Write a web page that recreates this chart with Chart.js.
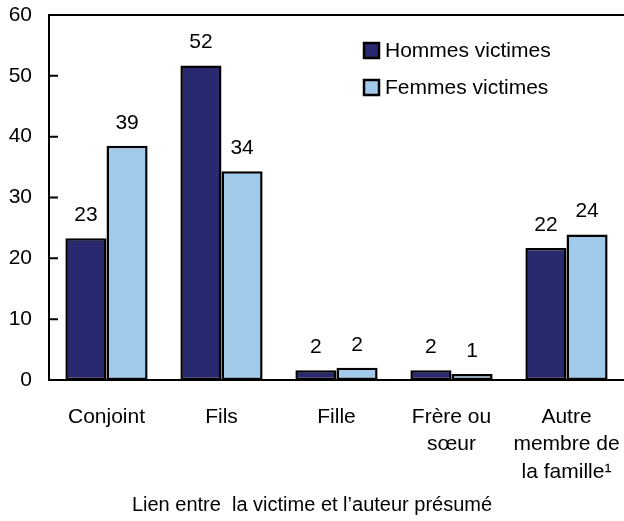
<!DOCTYPE html>
<html>
<head>
<meta charset="utf-8">
<script src="https://cdn.jsdelivr.net/npm/chart.js@4"></script>
<style>
  html, body { margin: 0; padding: 0; background: #fff; overflow: hidden; }
  #wrap { width: 624px; height: 521px; }
  canvas { display: block; }
</style>
</head>
<body>
<div id="wrap"><canvas id="bar-chart"></canvas></div>
<script>
var categories = ['Conjoint', 'Fils', 'Fille', ['Frère ou', 'sœur'], ['Autre', 'membre de', 'la famille¹']];
var hommes = [23.3, 51.7, 1.6, 1.6, 21.7];
var femmes = [38.5, 34.3, 2.0, 1.0, 23.9];
var yTicks = [0, 10, 20, 30, 40, 50, 60];
var axisTitle = 'Lien entre  la victime et l\u2019auteur présumé';

var FONT = '"Liberation Sans", Arial, Helvetica, sans-serif';

// values over the bars, inward y ticks, top rule and legend box
var extras = {
    id: 'extras',
    afterDraw: function(chart) {
        var ctx = chart.ctx;
        var area = chart.chartArea;
        var y = chart.scales.y;
        ctx.save();
        ctx.strokeStyle = '#000';
        ctx.lineWidth = 2;
        ctx.beginPath();
        ctx.moveTo(area.left - 1, area.top);
        ctx.lineTo(chart.width, area.top);
        yTicks.forEach(function(t) {
            var py = y.getPixelForValue(t);
            ctx.moveTo(area.left, py);
            ctx.lineTo(area.left + 9, py);
        });
        ctx.stroke();

        ctx.fillStyle = '#000';
        ctx.font = '21px ' + FONT;
        ctx.textAlign = 'center';
        ctx.textBaseline = 'middle';
        chart.data.datasets.forEach(function(ds, i) {
            chart.getDatasetMeta(i).data.forEach(function(bar, j) {
                ctx.fillText(String(Math.round(ds.data[j])), bar.x, bar.y - 23);
            });
        });

        ctx.textAlign = 'left';
        ctx.font = '21px ' + FONT;
        chart.data.datasets.forEach(function(ds, i) {
            var top = 43 + i * 37;
            ctx.fillStyle = ds.backgroundColor;
            ctx.fillRect(364, top, 15, 15);
            ctx.lineWidth = 2.5;
            ctx.strokeRect(364, top, 15, 15);
            ctx.fillStyle = '#000';
            ctx.fillText(ds.label, 385, top + 8);
        });
        ctx.restore();
    }
};

new Chart(document.getElementById('bar-chart'), {
    type: 'bar',
    data: {
        labels: categories,
        datasets: [{
            label: 'Hommes victimes',
            backgroundColor: '#29296f',
            borderColor: '#000',
            borderWidth: 2.5,
            borderSkipped: false,
            data: hommes
        }, {
            label: 'Femmes victimes',
            backgroundColor: '#a0c9ea',
            borderColor: '#000',
            borderWidth: 2.5,
            borderSkipped: false,
            data: femmes
        }]
    },
    options: {
        responsive: true,
        maintainAspectRatio: false,
        animation: false,
        categoryPercentage: 0.715,
        barPercentage: 1.0,
        layout: { padding: { top: 15, left: 0, right: 0, bottom: 0 } },
        plugins: {
            legend: { display: false },
            tooltip: { enabled: false },
            title: {
                display: true,
                position: 'bottom',
                text: axisTitle,
                color: '#000',
                font: { family: FONT, size: 20, weight: 'normal' },
                padding: { top: 0, bottom: 4 }
            }
        },
        scales: {
            x: {
                grid: { display: false, drawTicks: false },
                border: { display: true, color: '#000', width: 2 },
                ticks: {
                    color: '#000',
                    padding: 23,
                    maxRotation: 0,
                    autoSkip: false,
                    font: { family: FONT, size: 21, lineHeight: 1.31 }
                },
                afterFit: function(scale) {
                    scale.height = 113;
                    scale.paddingLeft = 0;
                    scale.paddingRight = 0;
                }
            },
            y: {
                min: 0,
                max: 60,
                grid: { display: false, drawTicks: false },
                border: { display: true, color: '#000', width: 2 },
                ticks: {
                    stepSize: 10,
                    color: '#000',
                    padding: 17,
                    font: { family: FONT, size: 21 }
                },
                afterFit: function(scale) {
                    scale.width = 49;
                    scale.paddingTop = 0;
                    scale.paddingBottom = 0;
                }
            }
        }
    },
    plugins: [extras]
});
</script>
</body>
</html>
